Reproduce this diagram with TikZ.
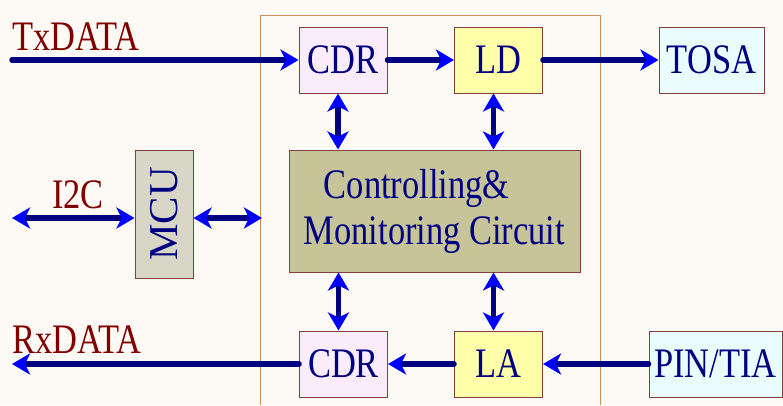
\documentclass[tikz,border=0pt]{standalone}
\usepackage{fontspec}
\setmainfont{Liberation Serif}[FakeStretch=0.82]
\newfontfamily\mcufont{Liberation Serif}
\usetikzlibrary{arrows.meta}
\definecolor{bgcol}{RGB}{253,250,246}
\definecolor{framecol}{RGB}{204,144,84}
\definecolor{edgecol}{RGB}{128,64,64}
\definecolor{linecol}{RGB}{0,0,128}
\definecolor{tipcol}{RGB}{0,0,255}
\definecolor{labelcol}{RGB}{128,0,0}
\definecolor{cdrfill}{RGB}{251,236,251}
\definecolor{ldfill}{RGB}{255,255,170}
\definecolor{osafill}{RGB}{234,252,252}
\definecolor{mcufill}{RGB}{216,214,198}
\definecolor{cmcfill}{RGB}{200,196,154}

\tikzset{
  block/.style={draw=edgecol, line width=1pt, inner sep=0pt, text=linecol,
    font=\fontsize{42}{46}\selectfont, minimum width=88pt, minimum height=66pt},
  sigtext/.style={inner sep=0pt, text=labelcol, font=\fontsize{42}{46}\selectfont},
  sig/.style={draw=linecol, line width=5.5pt, line cap=round},
  >={Stealth[length=18pt, width=21pt, inset=5pt, color=tipcol]}
}

\begin{document}
\begin{tikzpicture}[x=1pt, y=-1pt]
    \useasboundingbox[fill=bgcol] (0,0) rectangle (783,405);

    % module outline
    \draw[framecol, line width=1pt] (260,405) -- (260,15) -- (600,15) -- (600,405);

    % transmit path
    \node[block, fill=cdrfill] (cdrT) at (343,60) {CDR};
    \node[block, fill=ldfill] (ld) at (498.5,60) {LD};
    \node[block, fill=osafill, minimum width=105pt] (tosa) at (711.5,60) {TOSA};

    % control
    \node[block, fill=mcufill, rotate=90, minimum width=128pt, minimum height=58pt,
          font=\mcufont\fontsize{41}{46}\selectfont] (mcu) at (164,214) {MCU};
    \node[block, fill=cmcfill, minimum width=291pt, minimum height=122pt, align=left]
          (cmc) at (434.5,211) {\hspace*{20pt}Controlling\&\\Monitoring Circuit};

    % receive path
    \node[block, fill=cdrfill] (cdrB) at (343.5,364) {CDR};
    \node[block, fill=ldfill] (la) at (498.5,364) {LA};
    \node[block, fill=osafill, minimum width=133pt] (pin) at (715.5,364) {PIN/TIA};

    % signal names
    \node[sigtext, anchor=base west] (txlbl) at (12,50) {TxDATA};
    \node[sigtext, anchor=base west] (i2clbl) at (52,208) {I2C};
    \node[sigtext, anchor=base west] (rxlbl) at (12,353) {RxDATA};

    \coordinate (txin) at (12,60);
    \coordinate (i2c) at (12,218);
    \coordinate (port) at (262,218);
    \coordinate (rxout) at (12,364);

    % arrows
    \draw[sig,->] (txin) -- (cdrT);
    \draw[sig,->] (cdrT) -- (ld);
    \draw[sig,->] (ld) -- (tosa);
    \draw[sig,<->] (i2c) -- (i2c -| mcu.north);
    \draw[sig,<->] (port -| mcu.south) -- (port);
    \draw[sig,<->] ([xshift=-5pt]cdrT.south) -- ([xshift=-5pt]cdrT.south |- cmc.north);
    \draw[sig,<->] ([xshift=-5pt]ld.south) -- ([xshift=-5pt]ld.south |- cmc.north);
    \draw[sig,<->] ([xshift=-5pt]cdrB.north |- cmc.south) -- ([xshift=-5pt]cdrB.north);
    \draw[sig,<->] ([xshift=-5pt]la.north |- cmc.south) -- ([xshift=-5pt]la.north);
    \draw[sig,->] (pin) -- (la);
    \draw[sig,->] (la) -- (cdrB);
    \draw[sig,->] (cdrB) -- (rxout);
\end{tikzpicture}
\end{document}
